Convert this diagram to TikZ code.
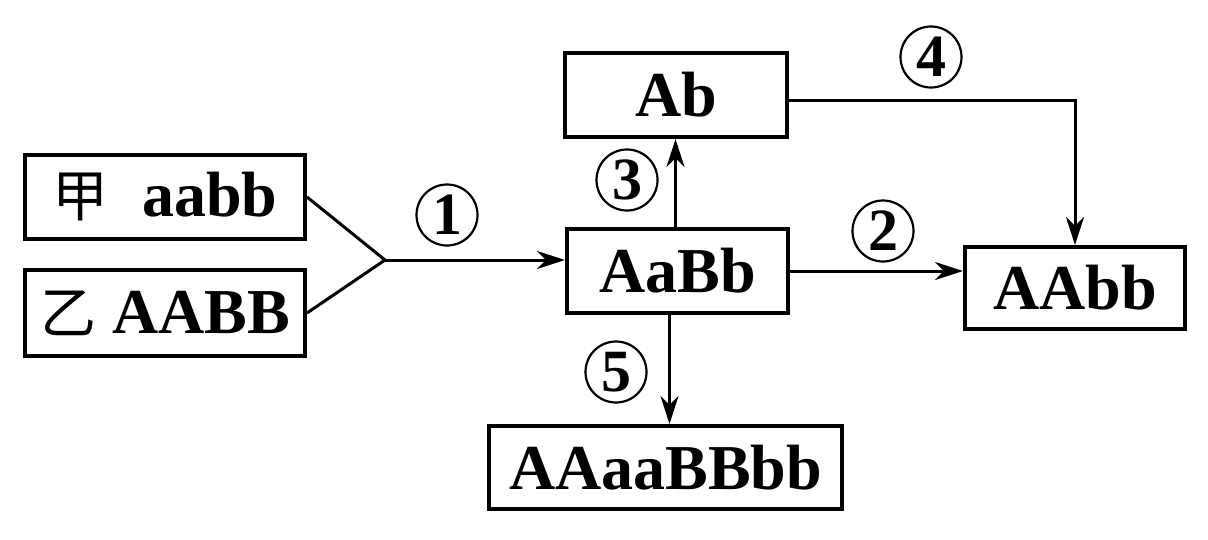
\documentclass[tikz,border=0pt]{standalone}
\usepackage{fontspec}
\setmainfont{Liberation Serif}
\newfontfamily\cjk{Noto Sans CJK SC}
\usetikzlibrary{arrows.meta}
\begin{document}
\begin{tikzpicture}[x=1pt,y=-1pt,
  box/.style={draw,line width=4pt,inner sep=0pt,font=\fontsize{64}{64}\selectfont\bfseries},
  conn/.style={line width=3pt},
  arr/.style={conn,-{Stealth[length=28pt,width=18pt,inset=9pt]}},
  num/.style={circle,draw,line width=2.2pt,minimum size=61pt,inner sep=0pt,font=\fontsize{60}{60}\selectfont\bfseries}]
\useasboundingbox (0,0) rectangle (1208,539);
% boxes
\node[box,minimum width=280pt,minimum height=84pt] (jia) at (165,197) {{\cjk\mdseries\fontsize{56}{56}\selectfont 甲}\hspace{34pt}aabb};
\node[box,minimum width=280pt,minimum height=86pt] (yi) at (165,313) {{\cjk\mdseries\fontsize{56}{56}\selectfont 乙}\hspace{16pt}AABB};
\node[box,minimum width=222pt,minimum height=84pt] (ab) at (676,95) {Ab};
\node[box,minimum width=221pt,minimum height=84pt] (aabbx) at (677.5,271) {AaBb};
\node[box,minimum width=220pt,minimum height=82pt] (aabbres) at (1075,288) {AAbb};
\node[box,minimum width=353pt,minimum height=83pt] (big) at (665.5,467.5) {AAaaBBbb};
% junction
\coordinate (J) at (385,260);
\draw[conn,line join=miter] (jia.east) -- (J) -- (yi.east);
\draw[arr] (J) -- (J -| aabbx.west);
\draw[arr] (aabbx.east) -- (aabbx.east -| aabbres.west);
\draw[arr] ([xshift=-2pt]aabbx.north) -- ([xshift=-2pt]aabbx.north |- ab.south);
\draw[arr] ([xshift=-8pt]aabbx.south) -- ([xshift=-8pt]aabbx.south |- big.north);
\draw[arr] ([yshift=-5pt]ab.east) -| (aabbres.north);
% labels
\node[num] (n1) at (447,215) {1};
\node[num] (n2) at (883,231) {2};
\node[num] (n3) at (627,180) {3};
\node[num] (n4) at (931,57) {4};
\node[num] (n5) at (616,372) {5};
\end{tikzpicture}
\end{document}
